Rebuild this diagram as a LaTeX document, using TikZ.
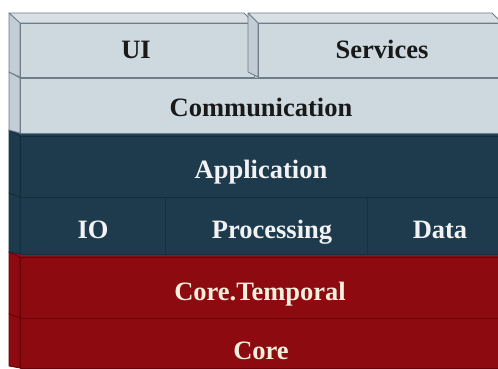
\documentclass[tikz,border=0pt]{standalone}
\usepackage{fontspec}
\setmainfont{Liberation Serif}
\definecolor{lfront}{HTML}{CDD8DF}
\definecolor{ltop}{HTML}{D8E0E6}
\definecolor{lside}{HTML}{C2CDD5}
\definecolor{ledge}{HTML}{6E7D87}
\definecolor{dfront}{HTML}{1D3B4D}
\definecolor{dtop}{HTML}{24465A}
\definecolor{dedge}{HTML}{132C3B}
\definecolor{rfront}{HTML}{8C0A10}
\definecolor{rtop}{HTML}{9A1218}
\definecolor{redge}{HTML}{6A0008}
\definecolor{cream}{HTML}{F6EFDC}
\tikzset{
  lface/.style={fill=lfront, draw=ledge, line width=0.8pt, line join=round},
  ltopf/.style={fill=ltop, draw=ledge, line width=0.8pt, line join=round},
  lsidef/.style={fill=lside, draw=ledge, line width=0.8pt, line join=round},
  dface/.style={fill=dfront, draw=dedge, line width=0.8pt, line join=round},
  dtopf/.style={fill=dtop, draw=dedge, line width=0.8pt, line join=round},
  rface/.style={fill=rfront, draw=redge, line width=0.8pt, line join=round},
  rtopf/.style={fill=rtop, draw=redge, line width=0.8pt, line join=round},
  lbl/.style={font=\fontsize{26.5}{30}\selectfont\bfseries, inner sep=0pt, anchor=base},
  dark/.style={lbl, text=black!90},
  light/.style={lbl, text=white!95!black},
  cr/.style={lbl, text=cream}
}
\begin{document}
\begin{tikzpicture}[x=1pt, y=-1pt]
\useasboundingbox (0,0) rectangle (498,369);
\fill[white] (0,0) rectangle (498,369);
% ---- Core (bottom) ----
\path[rface] (9,314) -- (20,318) -- (20,368) -- (9,366) -- cycle;
\path[rface] (20,318) rectangle (500,368);
% ---- Core.Temporal ----
\path[rtopf] (9,252) -- (500,252) -- (500,257) -- (20,257) -- cycle;
\path[rface] (9,252) -- (20,257) -- (20,318) -- (9,314) -- cycle;
\path[rface] (20,257) rectangle (500,318);
% ---- IO / Processing / Data ----
\path[dface] (9,193) -- (20,197) -- (20,254) -- (9,252) -- cycle;
\path[dface, draw=dfront!80!black] (20,197) rectangle (165,254);
\path[dface, draw=dfront!80!black] (165,197) rectangle (367,254);
\path[dface, draw=dfront!80!black] (367,197) rectangle (500,254);
\draw[dedge, line width=0.8pt] (20,197) -- (500,197);
% ---- Application ----
\path[dtopf] (9,130) -- (500,130) -- (500,136) -- (20,136) -- cycle;
\path[dface] (9,130) -- (20,136) -- (20,197) -- (9,193) -- cycle;
\path[dface] (20,136) rectangle (500,197);
% ---- Communication ----
\path[ltopf] (9,72) -- (500,72) -- (500,78) -- (20,78) -- cycle;
\path[lsidef] (9,72) -- (20,78) -- (20,133) -- (9,130) -- cycle;
\path[lface] (20,78) rectangle (500,133);
% ---- UI ----
\path[ltopf] (9,13) -- (244,13) -- (254,23) -- (20,23) -- cycle;
\path[lsidef] (9,13) -- (20,23) -- (20,77) -- (9,72) -- cycle;
\path[lface] (20,23) rectangle (254,77);
% ---- Services ----
\path[ltopf] (248,13) -- (492,13) -- (500,21) -- (500,23) -- (258,23) -- cycle;
\path[lsidef] (248,13) -- (258,23) -- (258,77) -- (248,72) -- cycle;
\path[lface] (258,23) rectangle (500,77);
% ---- labels ----
\node[dark]  (ui)   at (136,59)  {UI};
\node[dark]  (srv)  at (382,59)  {Services};
\node[dark]  (com)  at (261,117) {Communication};
\node[light] (app)  at (261,178) {Application};
\node[light] (io)   at (93,238)  {IO};
\node[light] (proc) at (272,238) {Processing};
\node[light] (data) at (440,238) {Data};
\node[cr]    (ct)   at (260,300) {Core.Temporal};
\node[cr]    (core) at (261,359) {Core};
\end{tikzpicture}
\end{document}
